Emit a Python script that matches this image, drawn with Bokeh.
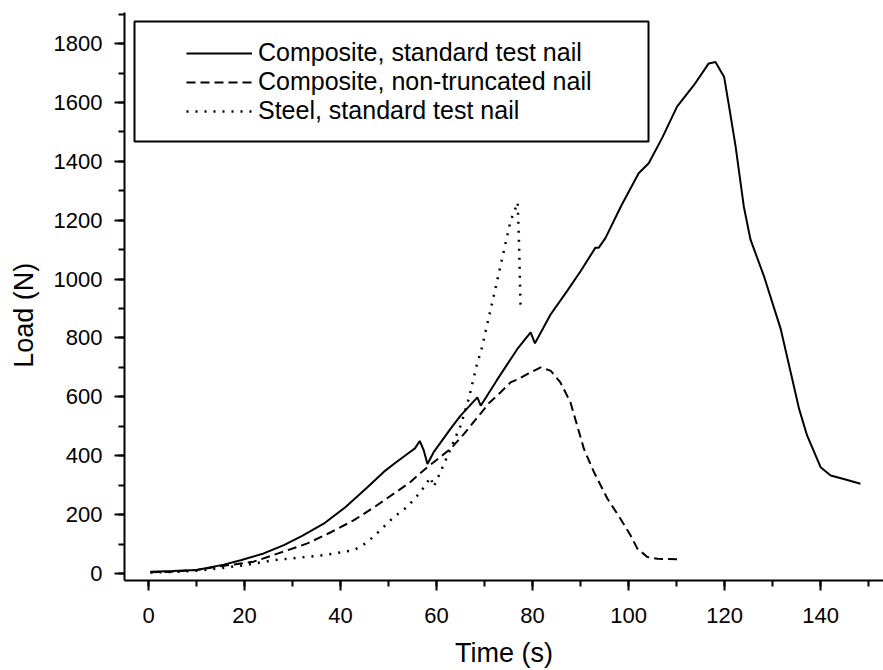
from bokeh.plotting import figure
from bokeh.models import Range1d, SingleIntervalTicker, Legend, LegendItem, BoxAnnotation
from bokeh.embed import file_html
from bokeh.resources import INLINE

# Composite, standard test nail
comp_std_t = [0.4, 5, 10, 15.7, 19.2, 24, 28.2, 32, 36.5, 41, 45.6, 49, 51.1, 53.9, 55.5, 56.5,
              57.3, 58.1, 59.4, 62.9, 65, 68.5, 69.2, 72.5, 76.8, 79.6, 80.5, 83.75, 87, 90,
              93.1, 93.8, 95.2, 98.5, 102.1, 104.2, 107, 110.1, 113.6, 116.7, 118.1, 119.9,
              121, 122.3, 124, 125.4, 128.2, 131.7, 134.1, 135.5, 137.2, 140, 142.1, 145, 148.3]
comp_std_load = [6, 8, 12, 30, 45, 68, 96, 128, 169, 225, 293, 345, 372, 406, 425, 450,
                 420, 372, 412, 491, 536, 598, 570, 655, 762, 819, 782, 880, 955, 1027,
                 1107, 1107, 1140, 1250, 1360, 1394, 1480, 1586, 1659, 1733, 1738, 1687,
                 1580, 1450, 1247, 1134, 1010, 830, 660, 560, 468, 361, 333, 320, 305]

# Composite, non-truncated nail
comp_nt_t = [0.4, 5, 10, 15.7, 21.9, 27, 33.1, 38, 42.8, 47, 51.1, 54.5, 57.7, 59.4, 62.9,
             65.5, 68.5, 71, 73.3, 75.4, 77, 78.9, 81.7, 83.75, 85.8, 87.9, 89.3, 90.7, 92.8,
             95.6, 98.3, 100.4, 101.8, 103.9, 106, 110.1]
comp_nt_load = [4, 6, 12, 26, 40, 68, 102, 140, 181, 225, 271, 310, 356, 378, 423,
                470, 530, 580, 615, 649, 660, 677, 700, 689, 649, 581, 502, 423, 344,
                254, 186, 130, 85, 56, 50, 48]

# Steel, standard test nail
steel_t = [0.4, 5, 10, 15, 20, 26.1, 31, 36.5, 42.8, 45.5, 48.3, 51, 53.9, 56.7, 58.75,
           59.4, 60.8, 62.9, 65, 66.7, 68.5, 69.2, 71.6, 73.3, 75.4, 76.9, 77.2, 77.5]
steel_load = [3, 5, 9, 18, 28, 45, 53, 62, 79, 105, 147, 190, 226, 277, 327,
              294, 344, 423, 502, 593, 717, 751, 920, 1044, 1196, 1261, 1112, 903]

series_labels = ["Composite, standard test nail", "Composite, non-truncated nail",
                 "Steel, standard test nail"]
x_title = "Time (s)"
y_title = "Load (N)"

FONT = "Liberation Sans"

p = figure(width=883, height=670, output_backend="svg", toolbar_location=None,
           x_range=Range1d(-5.0, 153.1), y_range=Range1d(-24, 1906),
           min_border_left=124, min_border_right=0, min_border_top=12, min_border_bottom=88)
p.outline_line_color = None
p.grid.visible = False
p.background_fill_color = "white"

p.xaxis.ticker = SingleIntervalTicker(interval=20, num_minor_ticks=2)
p.yaxis.ticker = SingleIntervalTicker(interval=200, num_minor_ticks=2)
p.xaxis.axis_label = x_title
# non-breaking spaces push the title slightly below the axis centre, as in the reference
p.yaxis.axis_label = y_title + "\u00a0" * 5

for ax in (p.xaxis[0], p.yaxis[0]):
    ax.axis_line_width = 2
    ax.axis_line_color = "black"
    ax.major_tick_line_width = 2
    ax.minor_tick_line_width = 2
    ax.major_tick_line_color = "black"
    ax.minor_tick_line_color = "black"
    ax.major_tick_out = 10
    ax.major_tick_in = 0
    ax.minor_tick_out = 6
    ax.minor_tick_in = 0
    ax.major_label_text_font = FONT
    ax.major_label_text_font_size = "22px"
    ax.major_label_text_color = "black"
    ax.axis_label_text_font = FONT
    ax.axis_label_text_font_size = "27px"
    ax.axis_label_text_font_style = "normal"
    ax.axis_label_text_color = "black"

p.xaxis.major_label_standoff = 17
p.xaxis.axis_label_standoff = 12
p.yaxis.major_label_standoff = 12
p.yaxis.axis_label_standoff = 12

r1 = p.line(comp_std_t, comp_std_load, line_color="black", line_width=2)
r2 = p.line(comp_nt_t, comp_nt_load, line_color="black", line_width=2, line_dash="9 5")
r3 = p.line(steel_t, steel_load, line_color="black", line_width=2.5, line_dash="2 7")

box = BoxAnnotation(left=10, right=524, top=559, bottom=439,
                    left_units="screen", right_units="screen",
                    top_units="screen", bottom_units="screen",
                    fill_alpha=0, line_color="black", line_width=2, line_alpha=1)
p.add_layout(box)

legend = Legend(items=[LegendItem(label=series_labels[0], renderers=[r1]),
                       LegendItem(label=series_labels[1], renderers=[r2]),
                       LegendItem(label=series_labels[2], renderers=[r3])],
                location=(62, 455), border_line_color=None, background_fill_alpha=0,
                padding=0, margin=0, spacing=0, glyph_width=66, glyph_height=28,
                label_height=28, label_standoff=6,
                label_text_font=FONT, label_text_font_size="25px", label_text_color="black")
p.add_layout(legend)

open("out.html", "w").write(file_html(p, INLINE))
